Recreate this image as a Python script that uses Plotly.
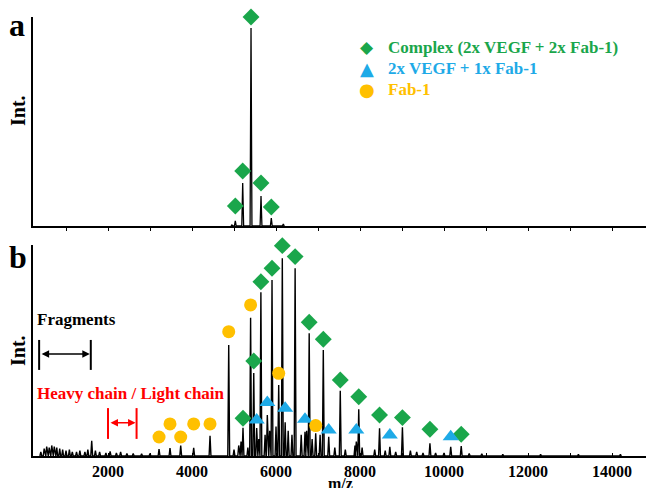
import plotly.graph_objects as go

# ---------------- data (m/z, relative intensity) ----------------
# Panel a: complex charge states
a_complex_mz = [5031, 5207, 5405, 5643, 5888]
a_complex_int = [0.024, 0.206, 0.947, 0.144, 0.038]
a_complex_mark = [0.096, 0.263, 1.0, 0.206, 0.091]
a_other_mz = [4950, 6174]
a_other_int = [0.005, 0.010]

# Panel b: complex (2x VEGF + 2x Fab-1)
b_complex_mz = [5214, 5470, 5640, 5905, 6150, 6455, 6790, 7126, 7530, 7970, 8465, 9010, 9665, 10410]
b_complex_int = [0.134, 0.393, 0.776, 0.834, 0.937, 0.890, 0.582, 0.502, 0.309, 0.221, 0.131, 0.136, 0.060, 0.047]
b_complex_mark = [0.179, 0.450, 0.826, 0.890, 0.997, 0.945, 0.634, 0.553, 0.360, 0.281, 0.194, 0.182, 0.127, 0.103]

# Panel b: 2x VEGF + 1x Fab-1
b_vegf_mz = [5540, 5793, 6218, 6690, 7255, 7912, 8710, 10160]
b_vegf_int = [0.133, 0.194, 0.160, 0.115, 0.091, 0.068, 0.044, 0.044]
b_vegf_mark = [0.171, 0.253, 0.226, 0.174, 0.123, 0.123, 0.100, 0.091]

# Panel b: Fab-1
b_fab_mz = [3215, 3476, 3731, 4040, 4429, 4874, 5395, 6064, 6945]
b_fab_int = [0.033, 0.038, 0.049, 0.039, 0.096, 0.526, 0.655, 0.336, 0.108]
b_fab_mark = [0.090, 0.152, 0.090, 0.152, 0.152, 0.589, 0.716, 0.392, 0.144]

# Panel b: unassigned small peaks / fragments
b_other_mz = [400, 480, 540, 600, 660, 720, 780, 850, 920, 1000, 1080, 1150, 1250, 1330,
              1450, 1520, 1612, 1700, 1800, 1950, 2050, 2200, 2300, 2450, 2600, 2800, 3000,
              5000, 5112, 5167, 5330, 5590, 5740, 5850, 6000, 6290, 6380, 6600, 6730, 6860,
              7050, 7400, 7650, 7880, 8050, 8350, 8600, 8850, 9200, 9350, 9500, 9800, 10000,
              10600, 10900, 11400, 12300, 13200, 14200]
b_other_int = [0.020, 0.035, 0.045, 0.040, 0.050, 0.045, 0.040, 0.035, 0.030, 0.025, 0.030, 0.020, 0.020, 0.025,
               0.020, 0.030, 0.072, 0.025, 0.020, 0.015, 0.022, 0.015, 0.020, 0.012, 0.012, 0.010, 0.012,
               0.030, 0.050, 0.068, 0.040, 0.080, 0.100, 0.120, 0.140, 0.120, 0.100, 0.100, 0.120, 0.080,
               0.100, 0.040, 0.030, 0.050, 0.040, 0.030, 0.025, 0.020, 0.025, 0.020, 0.015, 0.015, 0.015,
               0.012, 0.010, 0.008, 0.008, 0.008, 0.008]

fragments_range = [360, 1590]
chain_range = [2000, 2680]

x_ticks = [1000 * k for k in range(1, 15)]
x_labels = [f"<b>{v}</b>" if v % 2000 == 0 else "" for v in x_ticks]

legend_names = ["Complex (2x VEGF + 2x Fab-1)", "2x VEGF + 1x Fab-1", "Fab-1"]
legend_glyphs = ["\u25C6", "\u25B2", "\u25CF"]

GREEN = "#1aa64b"
BLUE = "#1eaae7"
ORANGE = "#ffc000"
RED = "#ff0000"
FONT = "Liberation Serif"
legend_colors = [GREEN, BLUE, ORANGE]

# page body has an 8px margin: figure drawn from (8,8) in the window
W, H = 646, 480
ML, MR, MT, MB = 25, 0, 9, 32
PW, PH = W - ML - MR, H - MT - MB


def px(xw):   # window x pixel -> paper x
    return (xw - 8 - ML) / PW


def py(yw):   # window y pixel -> paper y
    return (H - MB - (yw - 8)) / PH


def spectrum(mz_lists, int_lists, hw=22):
    pairs = sorted(p for mzs, ints in zip(mz_lists, int_lists) for p in zip(mzs, ints))
    xs, ys = [], []
    for m, h in pairs:
        xs += [m - hw, m, m + hw]
        ys += [0, h, 0]
    return xs, ys


fig = go.Figure()

# Panel a spectrum
xa, ya = spectrum([a_complex_mz, a_other_mz], [a_complex_int, a_other_int])
fig.add_trace(go.Scatter(x=xa, y=ya, mode="lines", line=dict(color="black", width=1.3),
                         showlegend=False, hoverinfo="skip", xaxis="x", yaxis="y"))
fig.add_trace(go.Scatter(x=a_complex_mz, y=a_complex_mark, mode="markers",
                         marker=dict(symbol="diamond", size=13, color=GREEN),
                         cliponaxis=False, showlegend=False, xaxis="x", yaxis="y"))

# Panel b spectrum
xb, yb = spectrum([b_complex_mz, b_vegf_mz, b_fab_mz, b_other_mz],
                  [b_complex_int, b_vegf_int, b_fab_int, b_other_int])
fig.add_trace(go.Scatter(x=xb, y=yb, mode="lines", line=dict(color="black", width=1.4),
                         showlegend=False, hoverinfo="skip", xaxis="x2", yaxis="y2"))
fig.add_trace(go.Scatter(x=b_complex_mz, y=b_complex_mark, mode="markers",
                         marker=dict(symbol="diamond", size=13, color=GREEN), cliponaxis=False,
                         name=legend_names[0], showlegend=False, xaxis="x2", yaxis="y2"))
fig.add_trace(go.Scatter(x=b_vegf_mz, y=b_vegf_mark, mode="markers",
                         marker=dict(symbol="triangle-up", size=14, color=BLUE), cliponaxis=False,
                         name=legend_names[1], showlegend=False, xaxis="x2", yaxis="y2"))
fig.add_trace(go.Scatter(x=b_fab_mz, y=b_fab_mark, mode="markers",
                         marker=dict(symbol="circle", size=13, color=ORANGE), cliponaxis=False,
                         name=legend_names[2], showlegend=False, xaxis="x2", yaxis="y2"))

axis_common = dict(showgrid=False, zeroline=False, showline=True, linecolor="black", linewidth=1.5)

annotations = [
    dict(text="<b>a</b>", x=px(16.7), y=py(25), xref="paper", yref="paper", showarrow=False,
         font=dict(family=FONT, size=32, color="black"), xanchor="center", yanchor="middle"),
    dict(text="<b>b</b>", x=px(18), y=py(257), xref="paper", yref="paper", showarrow=False,
         font=dict(family=FONT, size=32, color="black"), xanchor="center", yanchor="middle"),
    dict(text="<b>Int.</b>", x=px(18), y=py(111), xref="paper", yref="paper", showarrow=False,
         textangle=-90, xanchor="center", yanchor="middle",
         font=dict(family=FONT, size=20, color="black")),
    dict(text="<b>Int.</b>", x=px(18), y=py(351), xref="paper", yref="paper", showarrow=False,
         textangle=-90, xanchor="center", yanchor="middle",
         font=dict(family=FONT, size=20, color="black")),
    dict(text="<b>m/z</b>", x=px(340), y=py(483), xref="paper", yref="paper", showarrow=False,
         font=dict(family=FONT, size=16, color="black"), xanchor="center", yanchor="middle"),
    dict(text="<b>Fragments</b>", x=250, y=0.648, xref="x2", yref="y2", showarrow=False,
         xanchor="left", yanchor="middle", font=dict(family=FONT, size=17, color="black")),
    dict(text="<b>Heavy chain / Light chain</b>", x=250, y=0.297, xref="x2", yref="y2",
         showarrow=False, xanchor="left", yanchor="middle", font=dict(family=FONT, size=17, color=RED)),
    dict(text="", x=fragments_range[1], y=0.483, ax=fragments_range[0], ay=0.483,
         xref="x2", yref="y2", axref="x2", ayref="y2", showarrow=True, arrowhead=2,
         arrowside="end+start", arrowwidth=1.5, arrowsize=1, arrowcolor="black",
         standoff=1, startstandoff=1),
    dict(text="", x=chain_range[1], y=0.158, ax=chain_range[0], ay=0.158,
         xref="x2", yref="y2", axref="x2", ayref="y2", showarrow=True, arrowhead=2,
         arrowside="end+start", arrowwidth=1.5, arrowsize=1, arrowcolor=RED,
         standoff=1, startstandoff=1),
]

# legend drawn as glyph + coloured label rows
legend_rows_y = [47, 68.5, 89.5]
legend_glyph_sizes = [17, 18, 18]
for name, glyph, col, yw, gs in zip(legend_names, legend_glyphs, legend_colors, legend_rows_y,
                                    legend_glyph_sizes):
    annotations.append(dict(text=glyph, x=px(366.7), y=py(yw), xref="paper", yref="paper",
                            showarrow=False, xanchor="center", yanchor="middle",
                            font=dict(family="DejaVu Sans", size=gs, color=col)))
    annotations.append(dict(text=f"<b>{name}</b>", x=px(386), y=py(yw), xref="paper", yref="paper",
                            showarrow=False, xanchor="left", yanchor="middle",
                            font=dict(family=FONT, size=17, color=col)))

shapes = []
for xv in fragments_range:
    shapes.append(dict(type="line", xref="x2", yref="y2", x0=xv, x1=xv, y0=0.408, y1=0.550,
                       line=dict(color="black", width=2)))
for xv in chain_range:
    shapes.append(dict(type="line", xref="x2", yref="y2", x0=xv, x1=xv, y0=0.081, y1=0.227,
                       line=dict(color=RED, width=2)))

fig.update_layout(
    width=W, height=H,
    margin=dict(l=ML, r=MR, t=MT, b=MB, autoexpand=False),
    paper_bgcolor="white", plot_bgcolor="white",
    xaxis=dict(domain=[0, 1], anchor="y", range=[214, 15000], tickvals=x_ticks,
               showticklabels=False, ticks="outside", ticklen=3, tickcolor="black", **axis_common),
    yaxis=dict(domain=[py(226), 1], anchor="x", range=[0, 1], showticklabels=False, ticks="",
               **axis_common),
    xaxis2=dict(domain=[0, 1], anchor="y2", matches="x", range=[214, 15000], tickvals=x_ticks,
                ticktext=x_labels, ticks="inside", ticklen=3, tickcolor="black",
                tickfont=dict(family=FONT, size=16, color="black"), **axis_common),
    yaxis2=dict(domain=[0, py(245)], anchor="x2", range=[0, 1], showticklabels=False, ticks="",
                **axis_common),
    annotations=annotations,
    shapes=shapes,
    showlegend=False,
)

fig.write_html("out.html")
